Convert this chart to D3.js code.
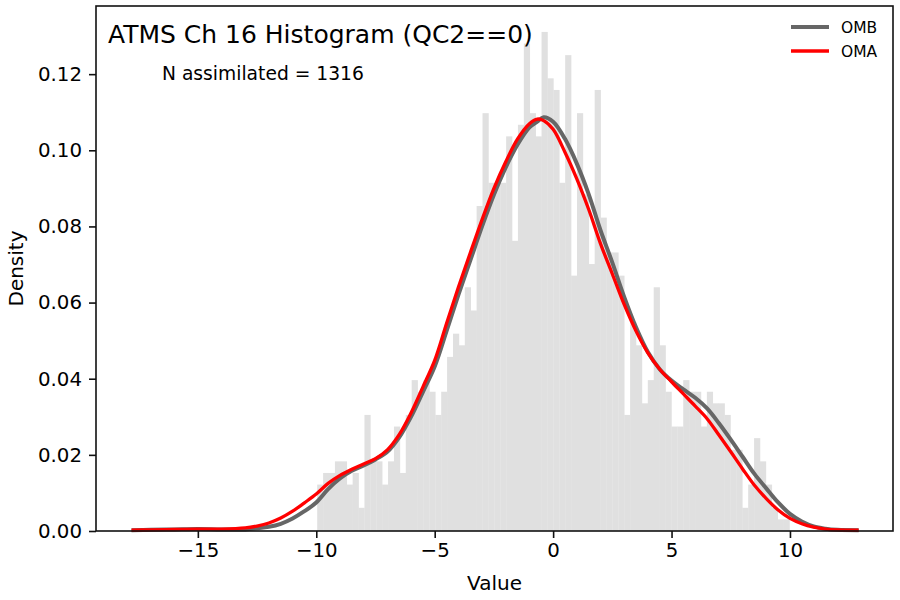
<!DOCTYPE html>
<html><head><meta charset="utf-8">
<script src="https://cdn.jsdelivr.net/npm/d3@7"></script>
<style>body{margin:0;background:#fff}svg{display:block}text{font-family:"DejaVu Sans",sans-serif}</style>
</head><body><svg id="c" width="900" height="600"></svg>
<script>
// Histogram: 80 equal bins between histMin and histMax, counts per bin
const nAssim = 1316;
const histMin = -9.96, histMax = 9.98;
const binCounts = [4,5,5,6,6,4,5,2,10,6, 6,4,6,9,5,10,13,12,13,12,
  10,12,15,17,16,21,19,28,36,30, 30,30,34,25,35,42,36,34,43,39,
  38,30,41,22,36,29,23,38,27,24, 24,22,10,18,16,11,13,21,16,12,
  9,9,13,12,12,9,12,11,11,10, 7,7,2,4,8,6,4,2,1,1];
// KDE curves
const kdeX = [-17.8,-17,-16,-15,-14,-13,-12.5,-12,-11.5,-11,-10.5,-10,-9.5,-9,-8.5,-8,-7.5,-7,-6.5,-6,-5.5,-5,-4.5,-4,-3.5,-3,-2.5,-2,-1.5,-1,-0.67,-0.4,0,0.5,1,1.5,2,2.5,3,3.5,4,4.5,5,5.5,6,6.5,7,7.5,8,8.5,9,9.5,10,10.5,11,11.5,12,12.9];
const omb = [0.0002,0.0003,0.0004,0.0005,0.0004,0.0004,0.0007,0.0011,0.0019,0.0033,0.0052,0.0075,0.0110,0.0138,0.0158,0.0172,0.0188,0.0208,0.0246,0.0300,0.0365,0.0432,0.0525,0.0620,0.0710,0.0800,0.0883,0.0955,0.1015,0.1060,0.1075,0.1087,0.1075,0.1030,0.0965,0.0885,0.0790,0.0705,0.0615,0.0535,0.0470,0.0425,0.0395,0.0372,0.0350,0.0322,0.0283,0.0240,0.0195,0.0150,0.0112,0.0075,0.0045,0.0025,0.0012,0.0006,0.0003,0.0002];
const oma = [0.0002,0.0003,0.0004,0.0005,0.0005,0.0008,0.0013,0.0021,0.0034,0.0052,0.0074,0.0097,0.0125,0.0146,0.0162,0.0176,0.0190,0.0213,0.0253,0.0310,0.0378,0.0448,0.0545,0.0640,0.0730,0.0818,0.0900,0.0970,0.1030,0.1070,0.1082,0.1078,0.1055,0.0995,0.0925,0.0845,0.0755,0.0675,0.0595,0.0525,0.0468,0.0425,0.0392,0.0360,0.0328,0.0295,0.0252,0.0208,0.0163,0.0120,0.0085,0.0055,0.0033,0.0019,0.0010,0.0005,0.0003,0.0002];
const xTicks = [-15,-10,-5,0,5,10];
const yTicks = [0,0.02,0.04,0.06,0.08,0.10,0.12];
const seriesNames = ["OMB","OMA"];
const seriesColors = ["#666666","#ff0000"];
const seriesWidths = [4,3.3];

const svg = d3.select("#c");
const L=96, R=893, T=6, B=531;
const x = d3.scaleLinear().domain([-19.3,14.35]).range([L,R]);
const y = d3.scaleLinear().domain([0,0.1379]).range([B,T]);

const bw = (histMax-histMin)/binCounts.length;
const bins = binCounts.map((c,i)=>({x0:histMin+i*bw, x1:histMin+(i+1)*bw, d:c/(nAssim*bw)}));
svg.append("g").selectAll("rect").data(bins).join("rect")
  .attr("x",d=>x(d.x0)).attr("width",d=>x(d.x1)-x(d.x0)+0.3)
  .attr("y",d=>y(d.d)).attr("height",d=>y(0)-y(d.d))
  .attr("fill","#e0e0e0");

const line = d3.line().x(d=>x(d[0])).y(d=>y(d[1])).curve(d3.curveCatmullRom.alpha(0.5));
[omb,oma].forEach((s,k)=>{
  svg.append("path").attr("d",line(kdeX.map((v,i)=>[v,s[i]])))
    .attr("fill","none").attr("stroke",seriesColors[k]).attr("stroke-width",seriesWidths[k])
    .attr("stroke-linejoin","round").attr("stroke-linecap","butt");
});

svg.append("rect").attr("x",L).attr("y",T).attr("width",R-L).attr("height",B-T)
  .attr("fill","none").attr("stroke","#111").attr("stroke-width",1.6);

const fmtX = d=>d<0?"\u2212"+Math.abs(d):String(d);
const xa = svg.append("g").attr("transform",`translate(0,${B})`)
  .call(d3.axisBottom(x).tickValues(xTicks).tickFormat(fmtX).tickSize(7).tickPadding(5));
const ya = svg.append("g").attr("transform",`translate(${L},0)`)
  .call(d3.axisLeft(y).tickValues(yTicks).tickFormat(d3.format(".2f")).tickSize(7).tickPadding(7));
[xa,ya].forEach(a=>{a.select(".domain").remove();
  a.selectAll("line").attr("stroke","#111").attr("stroke-width",1.6);
  a.selectAll("text").attr("fill","#000").style("font-size","19.8px").style("font-family","DejaVu Sans");});

svg.append("text").attr("x",(L+R)/2).attr("y",590).attr("text-anchor","middle").style("font-size","20px").text("Value");
svg.append("text").attr("transform",`translate(23,${(T+B)/2}) rotate(-90)`).attr("text-anchor","middle").style("font-size","20px").text("Density");

svg.append("text").attr("x",108).attr("y",43).style("font-size","25px").text("ATMS Ch 16 Histogram (QC2==0)");
svg.append("text").attr("x",162).attr("y",80).style("font-size","18.7px").text("N assimilated = "+nAssim);

const lg = svg.append("g");
seriesNames.forEach((n,k)=>{
  const yy = 27+k*24;
  lg.append("line").attr("x1",791).attr("x2",829).attr("y1",yy).attr("y2",yy)
    .attr("stroke",seriesColors[k]).attr("stroke-width",seriesWidths[k]);
  lg.append("text").attr("x",841).attr("y",yy+6).style("font-size","15.5px").text(n);
});
</script></body></html>
